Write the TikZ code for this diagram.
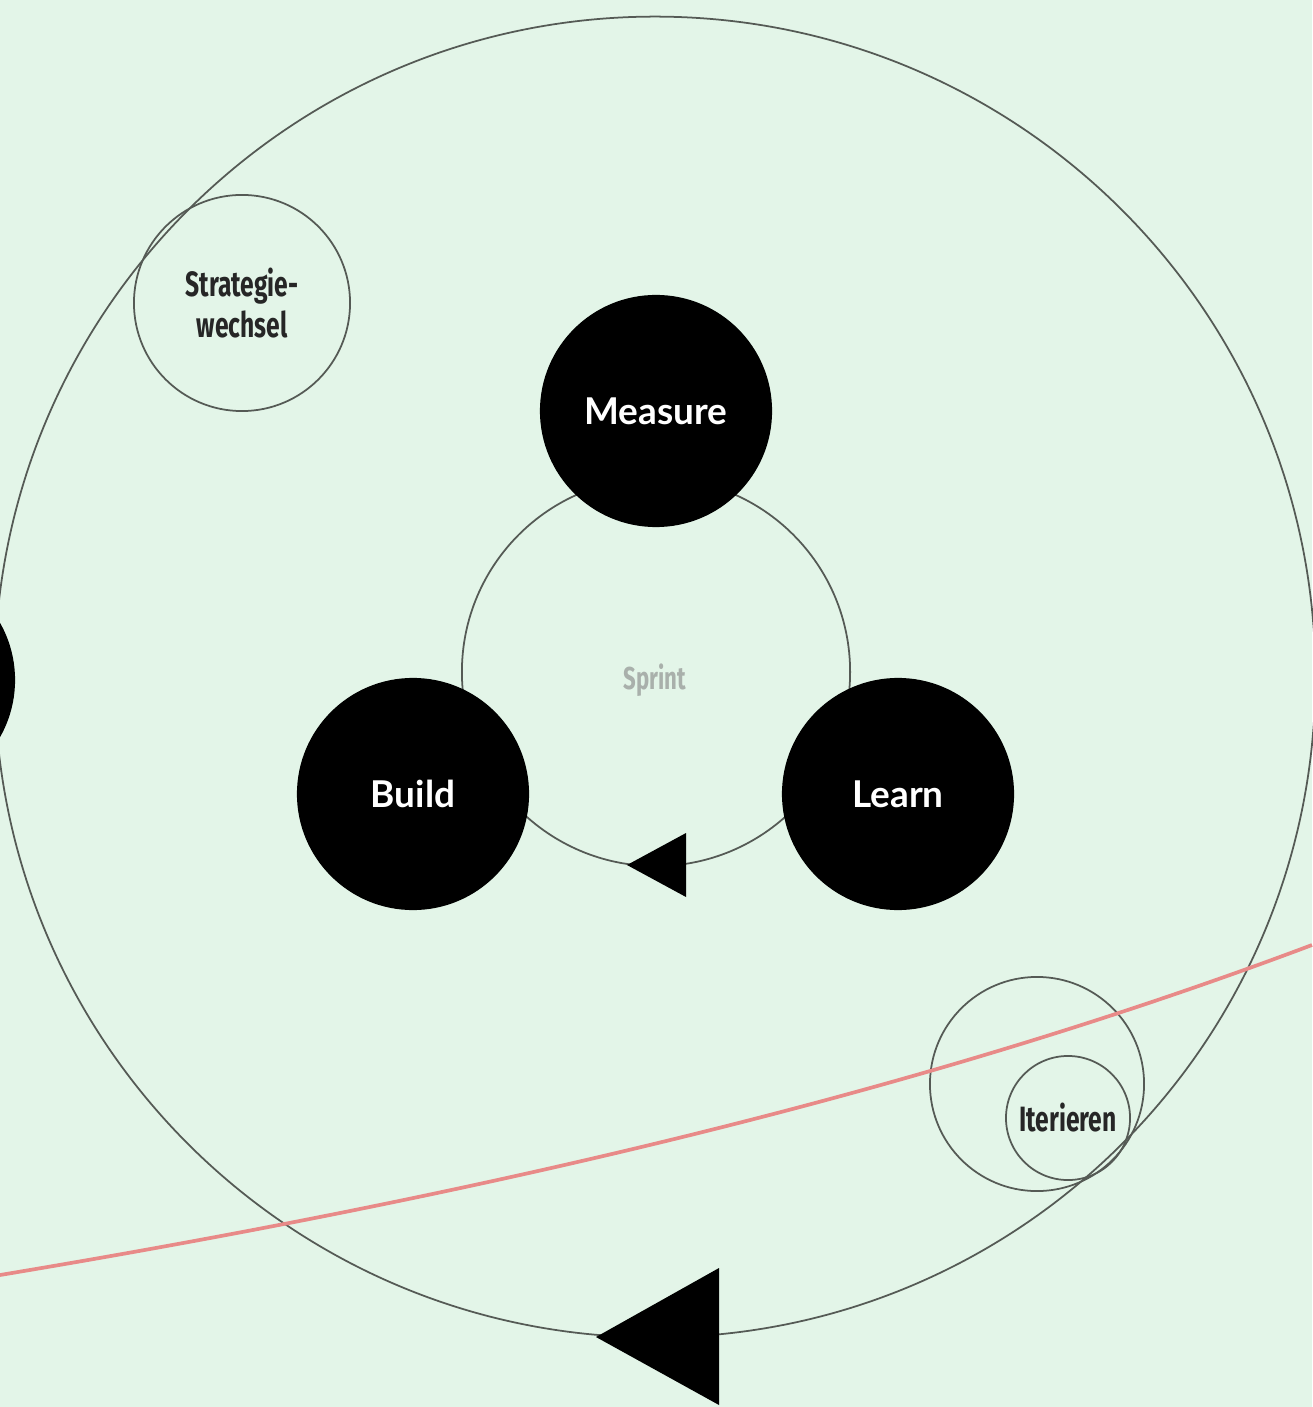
\documentclass[tikz,border=0pt]{standalone}
\usepackage{fontspec}
\newfontfamily\labelfont{Lato}
\newfontfamily\condfont[FakeStretch=0.7]{Fira Sans}
\definecolor{bg}{HTML}{E3F5E8}
\definecolor{ringcol}{HTML}{555A55}
\definecolor{redline}{HTML}{E88A88}
\definecolor{sprintgray}{HTML}{A9B0AB}
\begin{document}
\begin{tikzpicture}[x=0.01cm,y=-0.01cm,
 ring/.style={circle, draw=ringcol, line width=0.5pt, inner sep=0pt},
 blob/.style={circle, fill=black, minimum size=2.32cm, inner sep=0pt, text=white,
   font=\labelfont\bfseries\fontsize{10.5}{12}\selectfont},
 tag/.style={font=\condfont\bfseries\fontsize{10}{11.5}\selectfont, align=center, text=black!85},
 arrowhead/.style={fill=black}]
\fill[bg] (0,0) rectangle (1312,1407);
\useasboundingbox (0,0) rectangle (1312,1407);
% outer cycle
\node[ring, minimum size=13.2cm] (outer) at (655,677) {};
% sprint cycle
\node[ring, minimum size=3.88cm] (sprint) at (656,672) {};
\node[font=\condfont\bfseries\fontsize{9}{10}\selectfont, text=sprintgray] (sprintlabel) at (655,680) {Sprint};
% side nodes
\node[ring, minimum size=2.16cm, tag] (strat) at (242,303) {Strategie-\\wechsel};
\node[ring, minimum size=2.14cm] (iterA) at (1037,1084) {};
\node[ring, minimum size=1.24cm, tag] (iterB) at (1068,1118) {Iterieren};
% red line
\coordinate (redA) at (0,1275);
\coordinate (redB) at (1312,945);
\draw[redline, line width=1.05pt] (redA) .. controls (450,1200) and (900,1100) .. (redB);
% black nodes
\node[blob] (measure) at (656,411) {Measure};
\node[blob] (build) at (413,794) {Build};
\node[blob] (learn) at (898,794) {Learn};
\node[blob] (side) at (-101,680) {};
% arrowheads
\fill[arrowhead] (627,865) -- (686,833) -- (686,897) -- cycle;
\fill[arrowhead] (596,1337) -- (719,1268) -- (719,1405) -- cycle;
\end{tikzpicture}
\end{document}
